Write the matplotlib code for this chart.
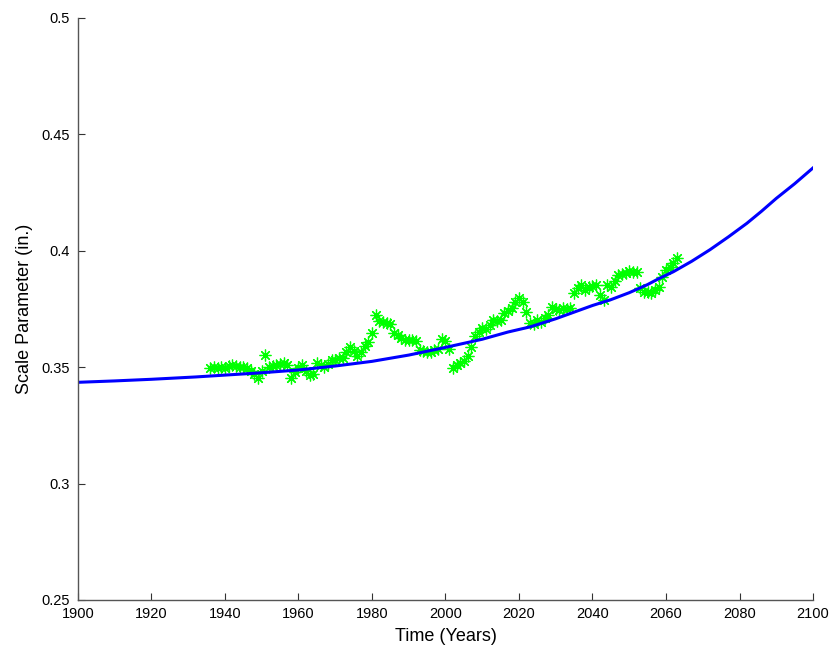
import numpy as np
import matplotlib
matplotlib.use('Agg')
import matplotlib.pyplot as plt

# observed scale parameter (one point per year)
obs_years = np.arange(1936, 2064)
obs_vals = [
    0.3497, 0.3500, 0.3495, 0.3500, 0.3497, 0.3505, 0.3510, 0.3505, 0.3502, 0.3500,
    0.3495, 0.3485, 0.3470, 0.3454, 0.3485, 0.3553, 0.3500, 0.3505, 0.3510, 0.3515,
    0.3520, 0.3510, 0.3454, 0.3480, 0.3495, 0.3510, 0.3485, 0.3466, 0.3470, 0.3520,
    0.3510, 0.3500, 0.3515, 0.3530, 0.3530, 0.3540, 0.3540, 0.3565, 0.3587, 0.3570,
    0.3550, 0.3565, 0.3590, 0.3610, 0.3647, 0.3724, 0.3700, 0.3695, 0.3690, 0.3686,
    0.3647, 0.3638, 0.3625, 0.3617, 0.3617, 0.3617, 0.3612, 0.3574, 0.3570, 0.3565,
    0.3565, 0.3575, 0.3580, 0.3620, 0.3612, 0.3580, 0.3497, 0.3510, 0.3520, 0.3527,
    0.3550, 0.3587, 0.3634, 0.3650, 0.3668, 0.3664, 0.3680, 0.3703, 0.3700, 0.3703,
    0.3733, 0.3740, 0.3754, 0.3780, 0.3797, 0.3780, 0.3737, 0.3690, 0.3685, 0.3703,
    0.3695, 0.3710, 0.3724, 0.3759, 0.3750, 0.3746, 0.3754, 0.3750, 0.3754, 0.3819,
    0.3840, 0.3853, 0.3832, 0.3845, 0.3850, 0.3853, 0.3810, 0.3790, 0.3853, 0.3845,
    0.3870, 0.3896, 0.3900, 0.3905, 0.3913, 0.3910, 0.3909, 0.3840, 0.3823, 0.3825,
    0.3819, 0.3832, 0.3845, 0.3887, 0.3918, 0.3930, 0.3948, 0.3969,
]

# fitted trend
fit_years = [1900, 1910, 1920, 1932, 1940, 1950, 1960, 1970, 1980, 1990, 2000, 2010,
             2017, 2023, 2030, 2040, 2045, 2050, 2055, 2058, 2062, 2067, 2072, 2077,
             2082, 2086, 2090, 2095, 2100]
fit_vals = [0.3435, 0.3441, 0.3448, 0.3458, 0.3466, 0.3476, 0.3488, 0.3505, 0.3525, 0.3552,
            0.3585, 0.3620, 0.3651, 0.3673, 0.3708, 0.3765, 0.3790, 0.3820, 0.3855, 0.3880,
            0.3910, 0.3955, 0.4005, 0.4060, 0.4118, 0.4170, 0.4225, 0.4288, 0.4356]

yticks = [0.25, 0.3, 0.35, 0.4, 0.45, 0.5]
ytick_labels = ['0.25', '0.3', '0.35', '0.4', '0.45', '0.5']

plt.rcParams['font.family'] = ['Liberation Sans', 'DejaVu Sans']

fig = plt.figure(figsize=(8.33, 6.52), dpi=100)
ax = fig.add_axes([0.0936, 0.0798, 0.8824, 0.8926])

# MATLAB-style '*' marker: eight thin arms
ax.plot(obs_years, obs_vals, linestyle='none', marker=(8, 2, 0), color=(0, 1, 0),
        markersize=8.5, markeredgewidth=0.9)
ax.plot(fit_years, fit_vals, color=(0, 0, 1), linewidth=2.2)

ax.set_xlim(1900, 2100)
ax.set_ylim(0.25, 0.5)
ax.set_xticks(np.arange(1900, 2101, 20))
ax.set_yticks(yticks)
ax.set_yticklabels(ytick_labels)

ax.spines['top'].set_visible(False)
ax.spines['right'].set_visible(False)
for s in ['left', 'bottom']:
    ax.spines[s].set_color('#555555')
    ax.spines[s].set_linewidth(1.0)
ax.tick_params(direction='in', length=5, width=0.8, color='#333333', labelsize=10.5)
ax.tick_params(axis='x', pad=5)
ax.tick_params(axis='y', pad=6)

ax.set_xlabel('Time (Years)', fontsize=13, labelpad=5)
ax.set_ylabel('Scale Parameter (in.)', fontsize=13, labelpad=6)

fig.savefig('out.png', dpi=100)
